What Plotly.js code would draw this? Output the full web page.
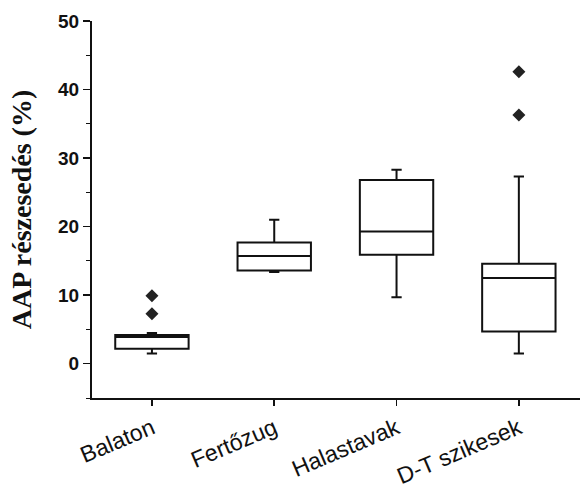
<!DOCTYPE html>
<html>
<head>
<meta charset="utf-8">
<script src="https://cdn.plot.ly/plotly-3.0.1.min.js"></script>
<style>html,body{margin:0;padding:0;background:#fff;}#chart{width:580px;height:495px;}</style>
</head>
<body>
<div id="chart"></div>
<script>
const categories = ["Balaton", "Fertőzug", "Halastavak", "D-T szikesek"];
const lowerWhisker = [1.5, 13.4, 9.7, 1.5];
const q1Values = [2.2, 13.6, 15.9, 4.7];
const medianValues = [3.9, 15.7, 19.3, 12.5];
const q3Values = [4.2, 17.7, 26.8, 14.6];
const upperWhisker = [4.5, 21.0, 28.3, 27.3];
const outlierCategories = ["Balaton", "Balaton", "D-T szikesek", "D-T szikesek"];
const outlierValues = [9.9, 7.3, 42.6, 36.3];
const yTickValues = [0, 10, 20, 30, 40, 50];

const boxTrace = {
  type: "box",
  x: categories,
  q1: q1Values,
  median: medianValues,
  q3: q3Values,
  lowerfence: lowerWhisker,
  upperfence: upperWhisker,
  boxpoints: false,
  width: 0.6,
  whiskerwidth: 0.14,
  fillcolor: "#ffffff",
  line: {color: "#111111", width: 2},
  hoverinfo: "skip",
  showlegend: false
};

const outlierTrace = {
  type: "scatter",
  mode: "markers",
  x: outlierCategories,
  y: outlierValues,
  marker: {symbol: "diamond", size: 10, color: "#222222"},
  showlegend: false,
  hoverinfo: "skip"
};

const layout = {
  width: 580,
  height: 495,
  margin: {l: 92, r: 0, t: 21, b: 97},
  paper_bgcolor: "#ffffff",
  plot_bgcolor: "#ffffff",
  showlegend: false,
  xaxis: {
    type: "category",
    categoryorder: "array",
    categoryarray: categories,
    range: [-0.49, 3.5],
    showline: true,
    linecolor: "#111111",
    linewidth: 2,
    ticks: "outside",
    ticklen: 6,
    tickwidth: 1.5,
    tickcolor: "#111111",
    tickangle: -23,
    tickfont: {family: "Liberation Sans, Arial, sans-serif", size: 23, color: "#111111"},
    showgrid: false,
    zeroline: false
  },
  yaxis: {
    range: [-5, 50],
    tickvals: yTickValues,
    showline: true,
    linecolor: "#111111",
    linewidth: 2,
    ticks: "outside",
    ticklen: 7,
    tickwidth: 1.5,
    tickcolor: "#111111",
    minor: {dtick: 5, ticks: "outside", ticklen: 4, tickcolor: "#111111", tickwidth: 1},
    tickfont: {family: "Liberation Sans, Arial, sans-serif", size: 19, color: "#111111", weight: "bold"},
    showgrid: false,
    zeroline: false,
    title: {
      text: "AAP részesedés (%)",
      font: {family: "Liberation Serif, Times New Roman, serif", size: 28, color: "#111111", weight: "bold"},
      standoff: 18
    }
  }
};

Plotly.newPlot("chart", [boxTrace, outlierTrace], layout, {staticPlot: true, displayModeBar: false});
</script>
</body>
</html>
